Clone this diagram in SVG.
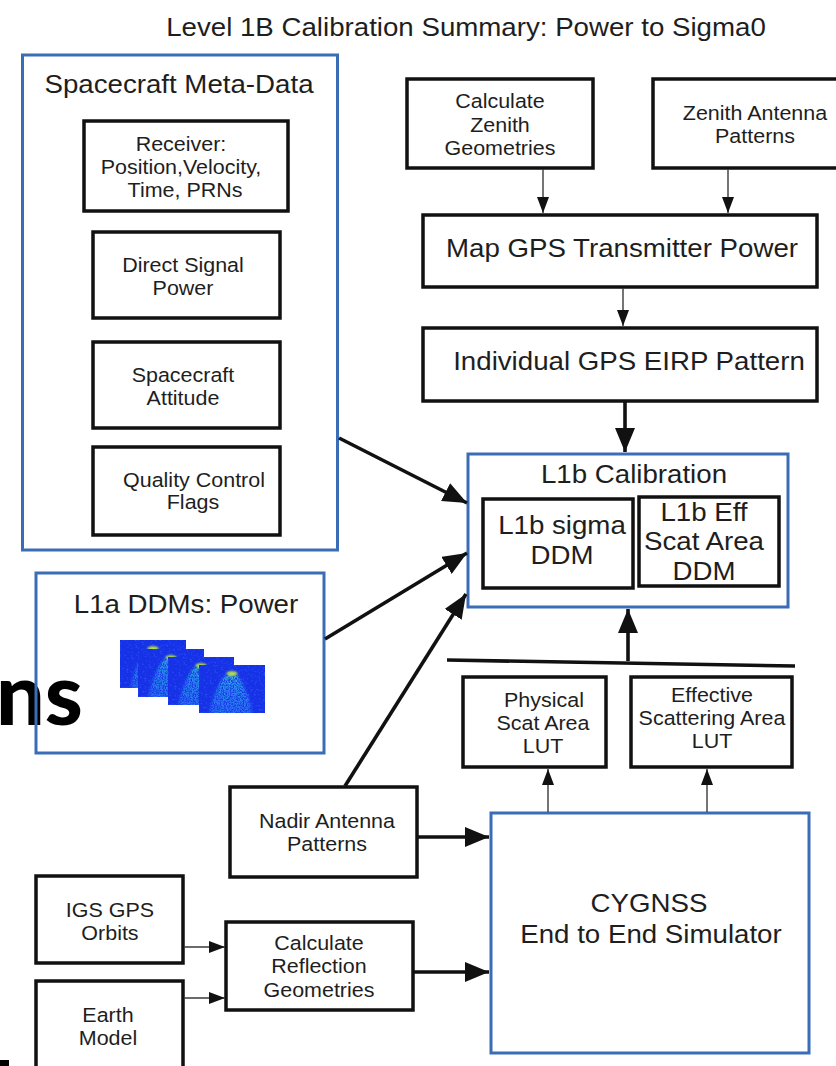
<svg xmlns="http://www.w3.org/2000/svg" width="836" height="1066" viewBox="0 0 836 1066">
  <style>
    text { font-family: "Liberation Sans", Arial, sans-serif; fill: #1e1e1e; text-anchor: middle;
           transform-box: fill-box; transform-origin: center; transform: scaleX(1.09); }
    .big { font-size: 25.4px; }
    .sm { font-size: 19.7px; }
    .box { fill: #fff; stroke: #111; stroke-width: 3.5; }
    .grp { fill: none; stroke: #3a6db5; stroke-width: 3; }
    .thin { stroke: #3a3a3a; stroke-width: 1.4; fill: none; }
    .thick { stroke: #111; stroke-width: 3.6; fill: none; }
    text.ns { font-family: Lato, "Liberation Sans", sans-serif; font-weight: 900; font-size: 86px;
              fill: #000; text-anchor: start; transform: none; }
  </style>
  <defs>
    <marker id="ah-s" markerUnits="userSpaceOnUse" markerWidth="16" markerHeight="12" refX="16" refY="6" orient="auto">
      <path d="M0,0 L16,6 L0,12 Z" fill="#111"/>
    </marker>
    <marker id="ah-l" markerUnits="userSpaceOnUse" markerWidth="24" markerHeight="20" refX="24" refY="10" orient="auto">
      <path d="M0,0 L24,10 L0,20 Z" fill="#111"/>
    </marker>
    <linearGradient id="cone" x1="0" y1="0" x2="0" y2="1">
      <stop offset="0" stop-color="#3fd8c8"/>
      <stop offset="0.3" stop-color="#2aa6ee"/>
      <stop offset="1" stop-color="#2d78f4"/>
    </linearGradient>
    <filter id="conegrain" x="-20%" y="-20%" width="140%" height="140%" color-interpolation-filters="sRGB">
      <feGaussianBlur in="SourceGraphic" stdDeviation="1.6" result="b"/>
      <feTurbulence type="fractalNoise" baseFrequency="0.7" numOctaves="2" seed="3" result="n"/>
      <feColorMatrix in="n" type="matrix" values="0 0 0 0 0  0 0 0 0 0  0 0 0 0 0  2.6 0 0 0 -0.7" result="m"/>
      <feComposite in="b" in2="m" operator="in"/>
    </filter>
    <filter id="speckle" x="0" y="0" width="100%" height="100%" color-interpolation-filters="sRGB">
      <feTurbulence type="fractalNoise" baseFrequency="0.45" numOctaves="2" seed="7" result="n"/>
      <feColorMatrix in="n" type="matrix" values="0 0 0 0 0.16  0 0 0 0 0.38  0 0 0 0 1  2.4 0 0 0 -1.3" result="d"/>
      <feComposite in="d" in2="SourceGraphic" operator="atop"/>
    </filter>
    <filter id="glow" x="-50%" y="-100%" width="200%" height="300%">
      <feGaussianBlur stdDeviation="0.9"/>
    </filter>
    <clipPath id="ddmclip"><rect width="66" height="48"/></clipPath>
    <!-- one delay-Doppler map tile -->
    <g id="ddm">
      <g clip-path="url(#ddmclip)">
        <rect width="66" height="48" fill="#1731e6" filter="url(#speckle)"/>
        <path d="M29,8 C21,14 14,30 10,50 L54,50 C50,30 43,14 36,8 Z" fill="url(#cone)" opacity="0.85" filter="url(#conegrain)"/>
        <ellipse cx="33" cy="8.5" rx="5.5" ry="2.2" fill="#bfe63c" filter="url(#glow)"/>
      </g>
    </g>
  </defs>

  <rect width="836" height="1066" fill="#fff"/>

  <text class="big" x="466" y="36">Level 1B Calibration Summary: Power to Sigma0</text>

  <!-- stray heading fragment behind the DDM panel -->
  <text class="ns" x="-4" y="725">ns</text>
  <rect x="0" y="1060" width="9" height="6" fill="#000"/>

  <g id="spacecraft-meta-data">
    <rect class="grp" x="22.5" y="55" width="315" height="495"/>
    <text class="big" x="179" y="93">Spacecraft Meta-Data</text>
  </g>
  <g id="receiver">
    <rect class="box" x="84" y="121" width="204" height="90"/>
    <text class="sm" x="181" y="151">Receiver:</text>
    <text class="sm" x="181" y="174">Position,Velocity,</text>
    <text class="sm" x="185" y="197">Time, PRNs</text>
  </g>
  <g id="direct-signal-power">
    <rect class="box" x="93" y="232" width="187" height="86"/>
    <text class="sm" x="183" y="272">Direct Signal</text>
    <text class="sm" x="183" y="295">Power</text>
  </g>
  <g id="spacecraft-attitude">
    <rect class="box" x="93" y="342" width="187" height="86"/>
    <text class="sm" x="183" y="382">Spacecraft</text>
    <text class="sm" x="183" y="405">Attitude</text>
  </g>
  <g id="quality-flags">
    <rect class="box" x="93" y="447" width="187" height="88"/>
    <text class="sm" x="194" y="487">Quality Control</text>
    <text class="sm" x="193" y="509">Flags</text>
  </g>

  <g id="l1a-ddms">
    <rect class="grp" x="36" y="573" width="288" height="180"/>
    <text class="big" x="186" y="613">L1a DDMs: Power</text>
    <use href="#ddm" x="120" y="640"/>
    <use href="#ddm" x="138" y="649"/>
    <use href="#ddm" x="168" y="657"/>
    <use href="#ddm" x="199" y="665"/>
  </g>

  <g id="calc-zenith-geometries">
    <rect class="box" x="407" y="79" width="186" height="89"/>
    <text class="sm" x="500" y="108">Calculate</text>
    <text class="sm" x="500" y="132">Zenith</text>
    <text class="sm" x="500" y="155">Geometries</text>
  </g>
  <g id="zenith-antenna-patterns">
    <rect class="box" x="653" y="79" width="200" height="89"/>
    <text class="sm" x="755" y="120">Zenith Antenna</text>
    <text class="sm" x="755" y="143">Patterns</text>
  </g>
  <g id="map-gps-power">
    <rect class="box" x="423" y="215" width="394" height="72"/>
    <text class="big" x="622" y="257">Map GPS Transmitter Power</text>
  </g>
  <g id="gps-eirp-pattern">
    <rect class="box" x="423" y="328" width="394" height="73"/>
    <text class="big" x="629" y="370">Individual GPS EIRP Pattern</text>
  </g>

  <g id="l1b-calibration">
    <rect class="grp" x="468" y="454" width="320" height="153"/>
    <text class="big" x="634" y="483">L1b Calibration</text>
  </g>
  <g id="l1b-sigma-ddm">
    <rect class="box" x="483" y="499" width="150" height="89"/>
    <text class="big" x="562" y="534">L1b sigma</text>
    <text class="big" x="562" y="564">DDM</text>
  </g>
  <g id="l1b-eff-scat-area-ddm">
    <rect class="box" x="639" y="497" width="140" height="89"/>
    <text class="big" x="704" y="521">L1b Eff</text>
    <text class="big" x="704" y="550">Scat Area</text>
    <text class="big" x="704" y="580">DDM</text>
  </g>

  <g id="physical-scat-area-lut">
    <rect class="box" x="463" y="677" width="143" height="90"/>
    <text class="sm" x="544" y="707">Physical</text>
    <text class="sm" x="543" y="730">Scat Area</text>
    <text class="sm" x="543" y="753">LUT</text>
  </g>
  <g id="effective-scat-area-lut">
    <rect class="box" x="631" y="677" width="161" height="90"/>
    <text class="sm" x="712" y="702">Effective</text>
    <text class="sm" x="712" y="725">Scattering Area</text>
    <text class="sm" x="712" y="748">LUT</text>
  </g>

  <g id="cygnss-simulator">
    <rect class="grp" x="491" y="813" width="318" height="240"/>
    <text class="big" x="649" y="912">CYGNSS</text>
    <text class="big" x="651" y="943">End to End Simulator</text>
  </g>
  <g id="nadir-antenna-patterns">
    <rect class="box" x="230" y="787" width="187" height="90"/>
    <text class="sm" x="327" y="828">Nadir Antenna</text>
    <text class="sm" x="327" y="851">Patterns</text>
  </g>
  <g id="igs-gps-orbits">
    <rect class="box" x="36" y="876" width="147" height="87"/>
    <text class="sm" x="110" y="917">IGS GPS</text>
    <text class="sm" x="110" y="940">Orbits</text>
  </g>
  <g id="earth-model">
    <rect class="box" x="36" y="981" width="147" height="100"/>
    <text class="sm" x="108" y="1022">Earth</text>
    <text class="sm" x="108" y="1045">Model</text>
  </g>
  <g id="calc-reflection-geometries">
    <rect class="box" x="226" y="922" width="187" height="88"/>
    <text class="sm" x="319" y="950">Calculate</text>
    <text class="sm" x="319" y="973">Reflection</text>
    <text class="sm" x="319" y="997">Geometries</text>
  </g>

  <g id="connectors">
    <!-- thin flows -->
    <line class="thin" x1="543" y1="169" x2="543" y2="213" marker-end="url(#ah-s)"/>
    <line class="thin" x1="728" y1="169" x2="728" y2="213" marker-end="url(#ah-s)"/>
    <line class="thin" x1="623" y1="288" x2="623" y2="326" marker-end="url(#ah-s)"/>
    <line class="thin" x1="548" y1="812" x2="548" y2="769" marker-end="url(#ah-s)"/>
    <line class="thin" x1="707" y1="812" x2="707" y2="769" marker-end="url(#ah-s)"/>
    <line class="thin" x1="184" y1="947" x2="225" y2="947" marker-end="url(#ah-s)"/>
    <line class="thin" x1="184" y1="998" x2="225" y2="998" marker-end="url(#ah-s)"/>
    <!-- heavy flows into calibration and simulator -->
    <line class="thick" x1="625" y1="402" x2="625" y2="452" marker-end="url(#ah-l)"/>
    <line class="thick" x1="339" y1="438" x2="467" y2="503" marker-end="url(#ah-l)"/>
    <line class="thick" x1="325" y1="639" x2="467" y2="553" marker-end="url(#ah-l)"/>
    <line class="thick" x1="345" y1="786" x2="466" y2="594" marker-end="url(#ah-l)"/>
    <line class="thick" x1="418" y1="837" x2="489" y2="837" marker-end="url(#ah-l)"/>
    <line class="thick" x1="414" y1="972" x2="489" y2="972" marker-end="url(#ah-l)"/>
    <line class="thick" x1="628" y1="661" x2="628" y2="609" marker-end="url(#ah-l)"/>
    <line class="thick" x1="447" y1="660" x2="795" y2="666" stroke-width="4"/>
  </g>
</svg>
